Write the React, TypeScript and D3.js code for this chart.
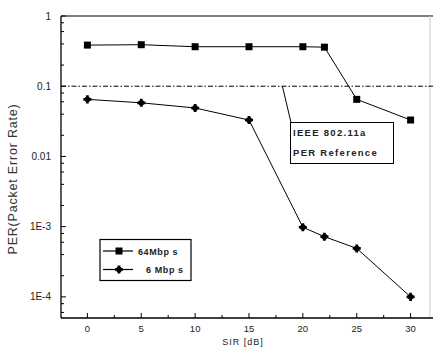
import React from "react";
import * as d3 from "d3";

const sir = [0, 5, 10, 15, 20, 22, 25, 30];
const per64 = [0.385, 0.39, 0.365, 0.365, 0.365, 0.36, 0.065, 0.033];
const per6 = [0.065, 0.058, 0.049, 0.033, 0.00098, 0.00072, 0.00049, 0.0001];
const refPER = 0.1;
const yTickVals = [1, 0.1, 0.01, 0.001, 0.0001];
const yTickLabels = ["1", "0.1", "0.01", "1E-3", "1E-4"];
const xTickVals = [0, 5, 10, 15, 20, 25, 30];
const seriesNames = ["64Mbp s", "6 Mbp s"];
const annotation = ["IEEE 802.11a", "PER Reference"];

export default function App() {
  const W = 436, H = 358;
  const L = 61, R = 430, T = 16, B = 318;
  const x = d3.scaleLinear().domain([-2.45, 31.8]).range([L, R]);
  const y = d3.scaleLog().domain([5e-5, 1]).range([B, T]);
  const line = d3
    .line<[number, number]>()
    .x((d) => x(d[0]))
    .y((d) => y(d[1]));
  const d64 = sir.map((s, i) => [s, per64[i]] as [number, number]);
  const d6 = sir.map((s, i) => [s, per6[i]] as [number, number]);

  const minor: number[] = [];
  for (let e = 0; e >= -5; e--) {
    for (const m of [0.8, 0.6, 0.4, 0.2]) {
      const v = m * Math.pow(10, e);
      if (v >= 5e-5 && v <= 1) minor.push(v);
    }
  }
  const xMinor = [2.5, 7.5, 12.5, 17.5, 22.5, 27.5];
  const font = "Liberation Sans, Arial, sans-serif";

  const sq = (cx: number, cy: number, k: string) => (
    <rect key={k} x={cx - 3.5} y={cy - 3.5} width={7} height={7} fill="#000" />
  );
  const star = (cx: number, cy: number, k: string) => (
    <g key={k}>
      <path d={d3.symbol().type(d3.symbolCross).size(36)() || ""} transform={`translate(${cx},${cy})`} fill="#000" />
      <circle cx={cx} cy={cy} r={2.9} fill="#000" />
    </g>
  );

  return (
    <svg width={W} height={H} style={{ position: "absolute", left: 0, top: 0, background: "#fff" }}>
      <rect width={W} height={H} fill="#fff" />
      {/* frame */}
      <line x1={L} x2={R + 3} y1={T} y2={T} stroke="#000" strokeWidth={1.2} />
      <line x1={R} x2={R} y1={T} y2={B} stroke="#ccc" strokeWidth={1} />
      <line x1={L} x2={L} y1={T} y2={B} stroke="#000" strokeWidth={1.3} />
      <line x1={L} x2={R + 3} y1={B} y2={B} stroke="#000" strokeWidth={1.3} />
      {/* y ticks */}
      {yTickVals.map((v, i) => (
        <g key={"yt" + i}>
          <line x1={L} x2={L + 5} y1={y(v)} y2={y(v)} stroke="#000" />
          <text x={L - 10} y={y(v) + 3.5} textAnchor="end" fontFamily={font} fontSize={10} fill="#222">
            {yTickLabels[i]}
          </text>
        </g>
      ))}
      {minor.map((v, i) => (
        <line key={"ym" + i} x1={L} x2={L + 3} y1={y(v)} y2={y(v)} stroke="#000" />
      ))}
      {/* x ticks */}
      {xTickVals.map((v) => (
        <g key={"xt" + v}>
          <line x1={x(v)} x2={x(v)} y1={B} y2={B - 5} stroke="#000" />
          <text x={x(v)} y={B + 14} textAnchor="middle" fontFamily={font} fontSize={9.5} fill="#222">
            {v}
          </text>
        </g>
      ))}
      {xMinor.map((v) => (
        <line key={"xm" + v} x1={x(v)} x2={x(v)} y1={B} y2={B - 3} stroke="#000" />
      ))}
      {/* axis titles */}
      <text x={243} y={345} textAnchor="middle" fontFamily={font} fontSize={9} fill="#222" letterSpacing={1}>
        SIR [dB]
      </text>
      <text
        transform={`translate(17,${179}) rotate(-90)`}
        textAnchor="middle"
        fontFamily={font}
        fontSize={12.5}
        fill="#333"
        letterSpacing={0.8}
      >
        PER(Packet Error Rate)
      </text>
      {/* reference line */}
      <line x1={L} x2={R + 3} y1={y(refPER)} y2={y(refPER)} stroke="#000" strokeWidth={1} strokeDasharray="5,2,1.5,2" />
      {/* series */}
      <path d={line(d64) || ""} fill="none" stroke="#000" strokeWidth={1} />
      <path d={line(d6) || ""} fill="none" stroke="#000" strokeWidth={1} />
      {d64.map((d, i) => sq(x(d[0]), y(d[1]), "a" + i))}
      {d6.map((d, i) => star(x(d[0]), y(d[1]), "b" + i))}
      {/* annotation */}
      <line x1={x(18.1)} y1={y(refPER)} x2={291} y2={122.5} stroke="#000" strokeWidth={1} />
      <rect x={290.5} y={122.5} width={103} height={41} fill="#fff" stroke="#000" strokeWidth={1} />
      <text x={293} y={136} fontFamily={font} fontSize={9.5} fontWeight="bold" fill="#222" letterSpacing={1.3}>
        {annotation[0]}
      </text>
      <text x={293} y={156} fontFamily={font} fontSize={9.5} fontWeight="bold" fill="#222" letterSpacing={1.3}>
        {annotation[1]}
      </text>
      {/* legend */}
      <rect x={100} y={239.5} width={91} height={41} fill="#fff" stroke="#000" strokeWidth={1.2} />
      {seriesNames.map((n, i) => {
        const ly = 251 + i * 18.5;
        return (
          <g key={"lg" + i}>
            <line x1={103} x2={133} y1={ly} y2={ly} stroke="#000" strokeWidth={1.2} />
            {i === 0 ? sq(119, ly, "ls") : star(119, ly, "lst")}
            <text
              x={i === 0 ? 138 : 146}
              y={ly + 3.5}
              fontFamily={font}
              fontSize={9}
              fontWeight="bold"
              fill="#222"
              letterSpacing={0.6}
            >
              {n}
            </text>
          </g>
        );
      })}
    </svg>
  );
}
